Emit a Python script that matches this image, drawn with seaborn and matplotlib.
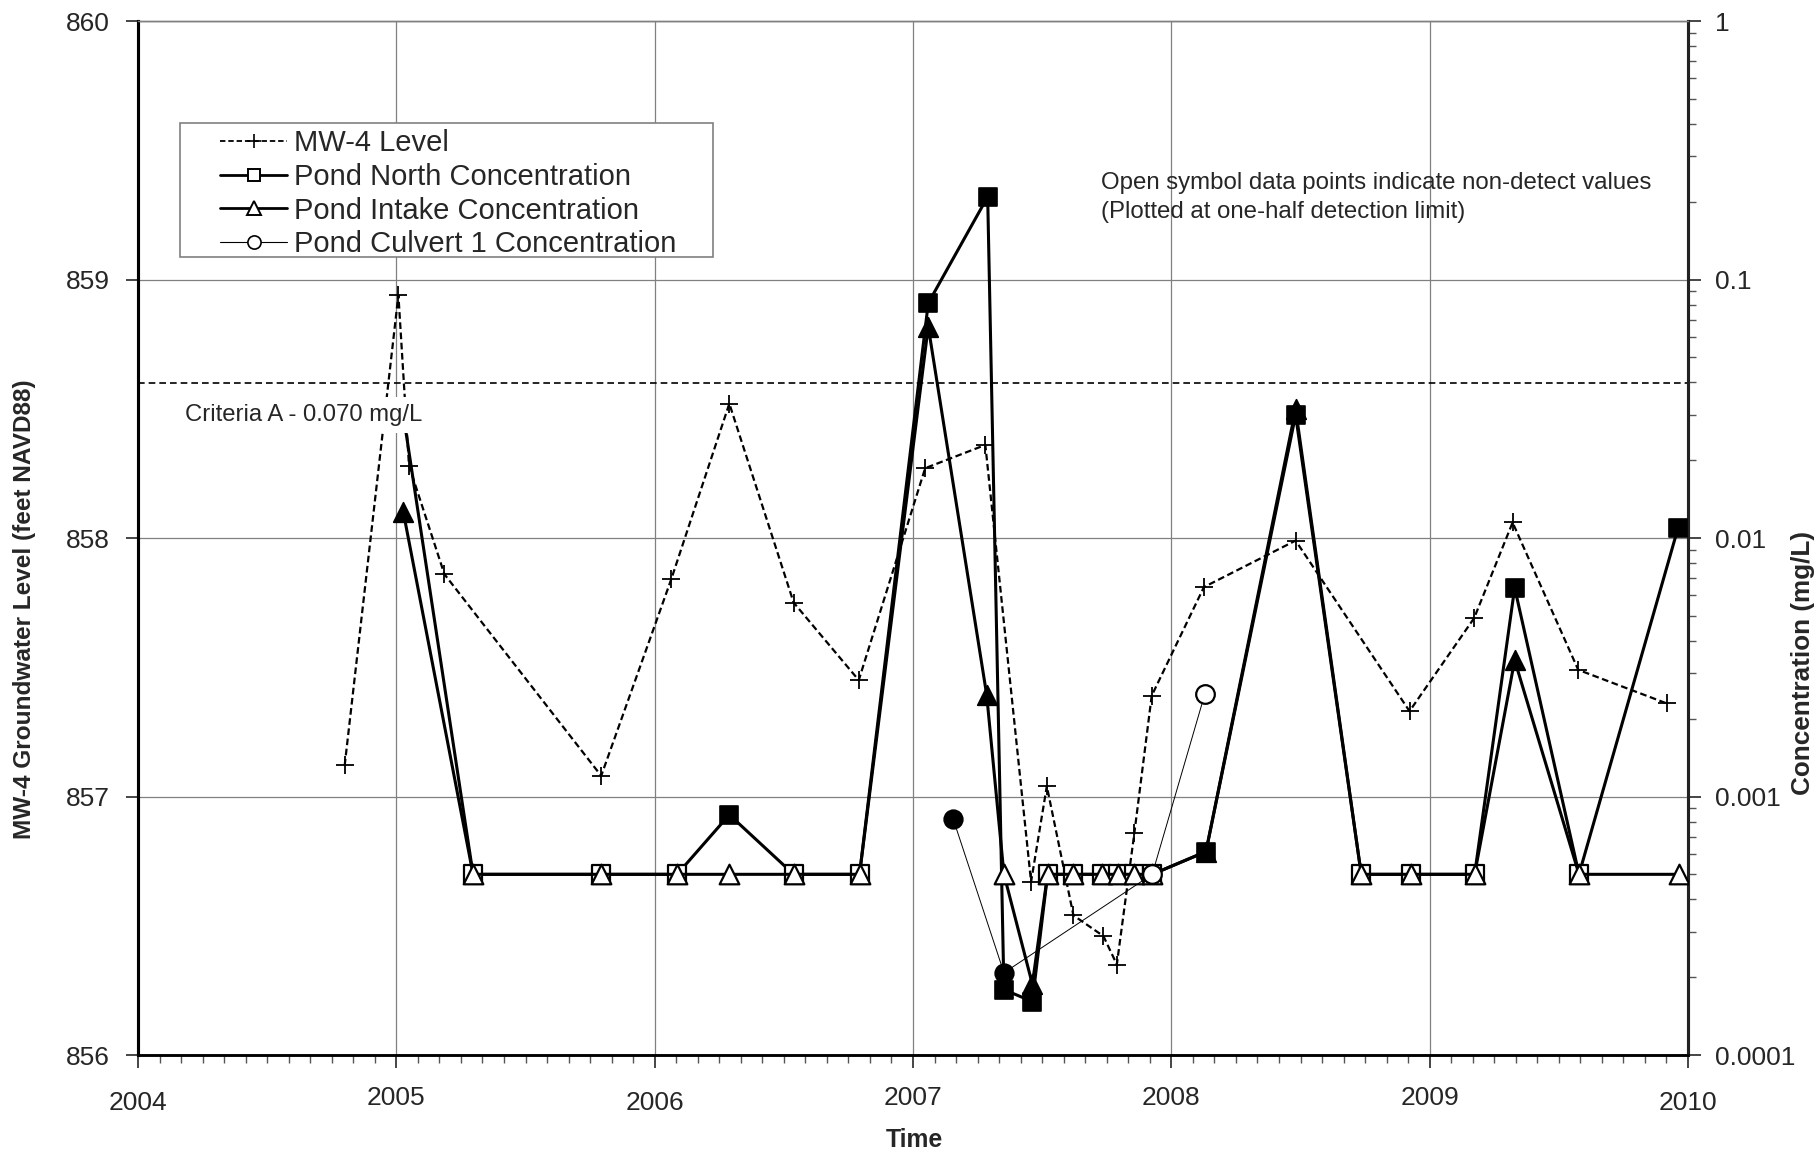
import matplotlib
matplotlib.use("Agg")
import matplotlib.pyplot as plt
import seaborn as sns
from matplotlib.lines import Line2D
from matplotlib.patches import Rectangle
from matplotlib.transforms import Affine2D
from matplotlib.ticker import FixedLocator, FixedFormatter, MultipleLocator, LogLocator, NullFormatter

# ---- MW-4 groundwater level (decimal year, feet NAVD88) ----
mw4_dates = [2004.800, 2005.008, 2005.049, 2005.186, 2005.793, 2006.064, 2006.289,
             2006.538, 2006.790, 2007.047, 2007.280, 2007.457, 2007.518, 2007.621,
             2007.737, 2007.789, 2007.857, 2007.924, 2008.126, 2008.481, 2008.922,
             2009.172, 2009.321, 2009.575, 2009.918]
mw4_levels = [857.12, 858.94, 858.28, 857.86, 857.08, 857.84, 858.52,
              857.75, 857.45, 858.27, 858.36, 856.67, 857.04, 856.54,
              856.46, 856.35, 856.86, 857.39, 857.81, 857.99, 857.33,
              857.69, 858.06, 857.49, 857.36]

# ---- Pond North concentration (mg/L); False = non-detect, plotted at half the DL ----
north_dates = [2005.027, 2005.297, 2005.793, 2006.087, 2006.289, 2006.538, 2006.793,
               2007.059, 2007.289, 2007.352, 2007.462, 2007.521, 2007.621, 2007.730,
               2007.795, 2007.857, 2007.926, 2008.134, 2008.481, 2008.735, 2008.927,
               2009.174, 2009.329, 2009.578, 2009.961]
north_conc = [0.030, 0.0005, 0.0005, 0.0005, 0.00085, 0.0005, 0.0005,
              0.081, 0.209, 0.000179, 0.000161, 0.0005, 0.0005, 0.0005,
              0.0005, 0.0005, 0.0005, 0.000612, 0.0299, 0.0005, 0.0005,
              0.0005, 0.00642, 0.0005, 0.0109]
north_detect = [True, False, False, False, True, False, False,
                True, True, True, True, False, False, False,
                False, False, False, True, True, False, False,
                False, True, False, True]

# ---- Pond Intake concentration (mg/L) ----
intake_dates = [2005.027, 2005.297, 2005.793, 2006.087, 2006.289, 2006.538, 2006.793,
                2007.059, 2007.285, 2007.352, 2007.462, 2007.521, 2007.621, 2007.730,
                2007.795, 2007.857, 2007.926, 2008.134, 2008.481, 2008.735, 2008.927,
                2009.174, 2009.329, 2009.578, 2009.964]
intake_conc = [0.0126, 0.0005, 0.0005, 0.0005, 0.0005, 0.0005, 0.0005,
               0.0657, 0.00248, 0.0005, 0.000188, 0.0005, 0.0005, 0.0005,
               0.0005, 0.0005, 0.0005, 0.000612, 0.0315, 0.0005, 0.0005,
               0.0005, 0.00337, 0.0005, 0.0005]
intake_detect = [True, False, False, False, False, False, False,
                 True, True, False, True, False, False, False,
                 False, False, False, True, True, False, False,
                 False, True, False, False]

# ---- Pond Culvert 1 concentration (mg/L) ----
culvert_dates = [2007.156, 2007.352, 2007.926, 2008.130]
culvert_conc = [0.000816, 0.000208, 0.0005, 0.0025]
culvert_detect = [True, True, False, False]

# Criteria A reference line, drawn at its level on the groundwater axis
criteria_level = 858.6
criteria_text = "Criteria A - 0.070 mg/L"

year_ticks = [2004, 2005, 2006, 2007, 2008, 2009, 2010]
level_ticks = [856, 857, 858, 859, 860]
conc_ticks = [0.0001, 0.001, 0.01, 0.1, 1]
conc_tick_labels = ["0.0001", "0.001", "0.01", "0.1", "1"]

sns.set_style("ticks")
plt.rcParams["font.family"] = ["Liberation Sans", "DejaVu Sans"]

fig = plt.figure(figsize=(18.18, 11.52), dpi=100)
ax = fig.add_axes([0.07591, 0.08420, 0.85259, 0.89757])
ax2 = ax.twinx()

GRID = "#808080"

# ---- primary axis: groundwater level ----
sns.lineplot(x=mw4_dates, y=mw4_levels, ax=ax, sort=False, estimator=None,
             color="black", lw=1.6, linestyle=(0, (3, 1.6)), zorder=3)
sns.scatterplot(x=mw4_dates, y=mw4_levels, ax=ax, marker="+", s=169,
                color="black", linewidth=1.3, zorder=4)
ax.axhline(criteria_level, color="black", lw=1.2, linestyle=(0, (4, 2.4)), zorder=2)

# ---- secondary axis: concentrations (log) ----
ax2.set_yscale("log")


def draw_series(dates, conc, detect, marker, size, lw, z):
    sns.lineplot(x=dates, y=conc, ax=ax2, sort=False, estimator=None,
                 color="black", lw=lw, zorder=z)
    fx = [d for d, k in zip(dates, detect) if k]
    fy = [c for c, k in zip(conc, detect) if k]
    ox = [d for d, k in zip(dates, detect) if not k]
    oy = [c for c, k in zip(conc, detect) if not k]
    if fx:
        sns.scatterplot(x=fx, y=fy, ax=ax2, marker=marker, s=size, color="black",
                        edgecolor="black", linewidth=1.2, zorder=z + 0.5)
    if ox:
        sns.scatterplot(x=ox, y=oy, ax=ax2, marker=marker, s=size, color="white",
                        edgecolor="black", linewidth=1.6, zorder=z + 0.5)


draw_series(north_dates, north_conc, north_detect, "s", 150, 2.2, 3)
draw_series(intake_dates, intake_conc, intake_detect, "^", 200, 2.2, 4)
draw_series(culvert_dates, culvert_conc, culvert_detect, "o", 180, 0.7, 5)

# ---- scales, ticks and spines (set after plotting) ----
ax.set_xlim(2004, 2010)
ax.set_ylim(856, 860)
ax2.set_xlim(2004, 2010)
ax2.set_ylim(1e-4, 1)

ax.xaxis.set_major_locator(FixedLocator(year_ticks))
ax.xaxis.set_major_formatter(FixedFormatter([str(y) for y in year_ticks]))
ax.xaxis.set_minor_locator(MultipleLocator(1 / 12))
ax.yaxis.set_major_locator(FixedLocator(level_ticks))
ax.yaxis.set_major_formatter(FixedFormatter([str(v) for v in level_ticks]))
ax.grid(True, which="major", color=GRID, lw=0.9)
ax.set_axisbelow(True)

ax2.yaxis.set_major_locator(FixedLocator(conc_ticks))
ax2.yaxis.set_major_formatter(FixedFormatter(conc_tick_labels))
ax2.yaxis.set_minor_locator(LogLocator(base=10, subs=range(2, 10)))
ax2.yaxis.set_minor_formatter(NullFormatter())

ax.tick_params(axis="x", which="major", direction="out", length=9, width=1.2,
               labelsize=19, pad=13, bottom=True, top=False)
ax.tick_params(axis="x", which="minor", direction="out", length=6, width=1.0,
               bottom=True, top=False, color="#555555")
ax.tick_params(axis="y", which="major", direction="out", length=9, width=1.2,
               labelsize=19, pad=13.5, left=True, right=False)
ax2.tick_params(axis="y", which="major", direction="out", length=9, width=1.2,
                labelsize=19, pad=13, left=False, right=True,
                labelleft=False, labelright=True)
ax2.tick_params(axis="y", which="minor", direction="out", length=6, width=1.0,
                color="#555555", left=False, right=True)

for a in (ax, ax2):
    a.spines["top"].set_color(GRID)
    a.spines["top"].set_linewidth(1.0)
    a.spines["left"].set_color("black")
    a.spines["left"].set_linewidth(2.2)
    a.spines["bottom"].set_color("black")
    a.spines["bottom"].set_linewidth(1.8)
    a.spines["right"].set_color("#222222")
    a.spines["right"].set_linewidth(2.2)
ax.set_xlabel("")
ax.set_ylabel("")
ax2.set_ylabel("")

# ---- annotations ----
ax2.text(2004.182, 0.0299, criteria_text, fontsize=17.2, ha="left", va="center",
         zorder=20, bbox=dict(facecolor="white", edgecolor="none", pad=5))
ax2.text(2007.728, 0.237, "Open symbol data points indicate non-detect values",
         fontsize=17.3, ha="left", va="center", zorder=20)
ax2.text(2007.728, 0.182, "(Plotted at one-half detection limit)",
         fontsize=17.3, ha="left", va="center", zorder=20)

fig.text(0.0135, 0.4714, "MW-4 Groundwater Level (feet NAVD88)", rotation=90,
         ha="center", va="center", fontsize=17.6, fontweight="bold")
fig.text(0.9917, 0.4245, "Concentration (mg/L)", rotation=90,
         ha="center", va="center", fontsize=18.8, fontweight="bold")
fig.text(0.5028, 0.0102, "Time", ha="center", va="center",
         fontsize=17.8, fontweight="bold")

# ---- legend ----
fig.patches.append(Rectangle((0.0990, 0.7769), 0.2932, 0.1163, transform=fig.transFigure,
                             facecolor="white", edgecolor=GRID, lw=1.2, zorder=30))
handles = [
    Line2D([], [], color="black", lw=1.3, linestyle=(0, (3, 1.6)), marker="+",
           markersize=10, markeredgewidth=1.2),
    Line2D([], [], color="black", lw=2.0, marker="s", markersize=9,
           markerfacecolor="white", markeredgecolor="black", markeredgewidth=1.4),
    Line2D([], [], color="black", lw=2.0, marker="^", markersize=10,
           markerfacecolor="white", markeredgecolor="black", markeredgewidth=1.4),
    Line2D([], [], color="black", lw=0.8, marker="o", markersize=9.5,
           markerfacecolor="white", markeredgecolor="black", markeredgewidth=1.2),
]
labels = ["MW-4 Level", "Pond North Concentration", "Pond Intake Concentration",
          "Pond Culvert 1 Concentration"]
leg = fig.legend(handles, labels, loc="upper left", bbox_to_anchor=(0.121, 0.8876),
                 frameon=False, fontsize=21, handlelength=2.3, handletextpad=0.25,
                 labelspacing=0.19, borderpad=0, borderaxespad=0)
leg.set_zorder(31)

# build every tick, then line up the tick labels on a common edge (pixels)
fig.canvas.draw()
renderer = fig.canvas.get_renderer()
H = fig.bbox.height

for t in ax2.yaxis.get_major_ticks():
    bb = t.label2.get_window_extent(renderer)
    t.label2.set_transform(t.label2.get_transform() + Affine2D().translate(1715 - bb.x0, 0))

for t in ax.yaxis.get_major_ticks():
    bb = t.label1.get_window_extent(renderer)
    t.label1.set_transform(t.label1.get_transform() + Affine2D().translate(110 - bb.x1, 0))

# year labels sit at slightly alternating heights
for t in ax.xaxis.get_major_ticks():
    if t.label1.get_text() in ("2004", "2006", "2010"):
        t.label1.set_transform(t.label1.get_transform() + Affine2D().translate(0, -5))

fig.savefig("out.png", dpi=100)
